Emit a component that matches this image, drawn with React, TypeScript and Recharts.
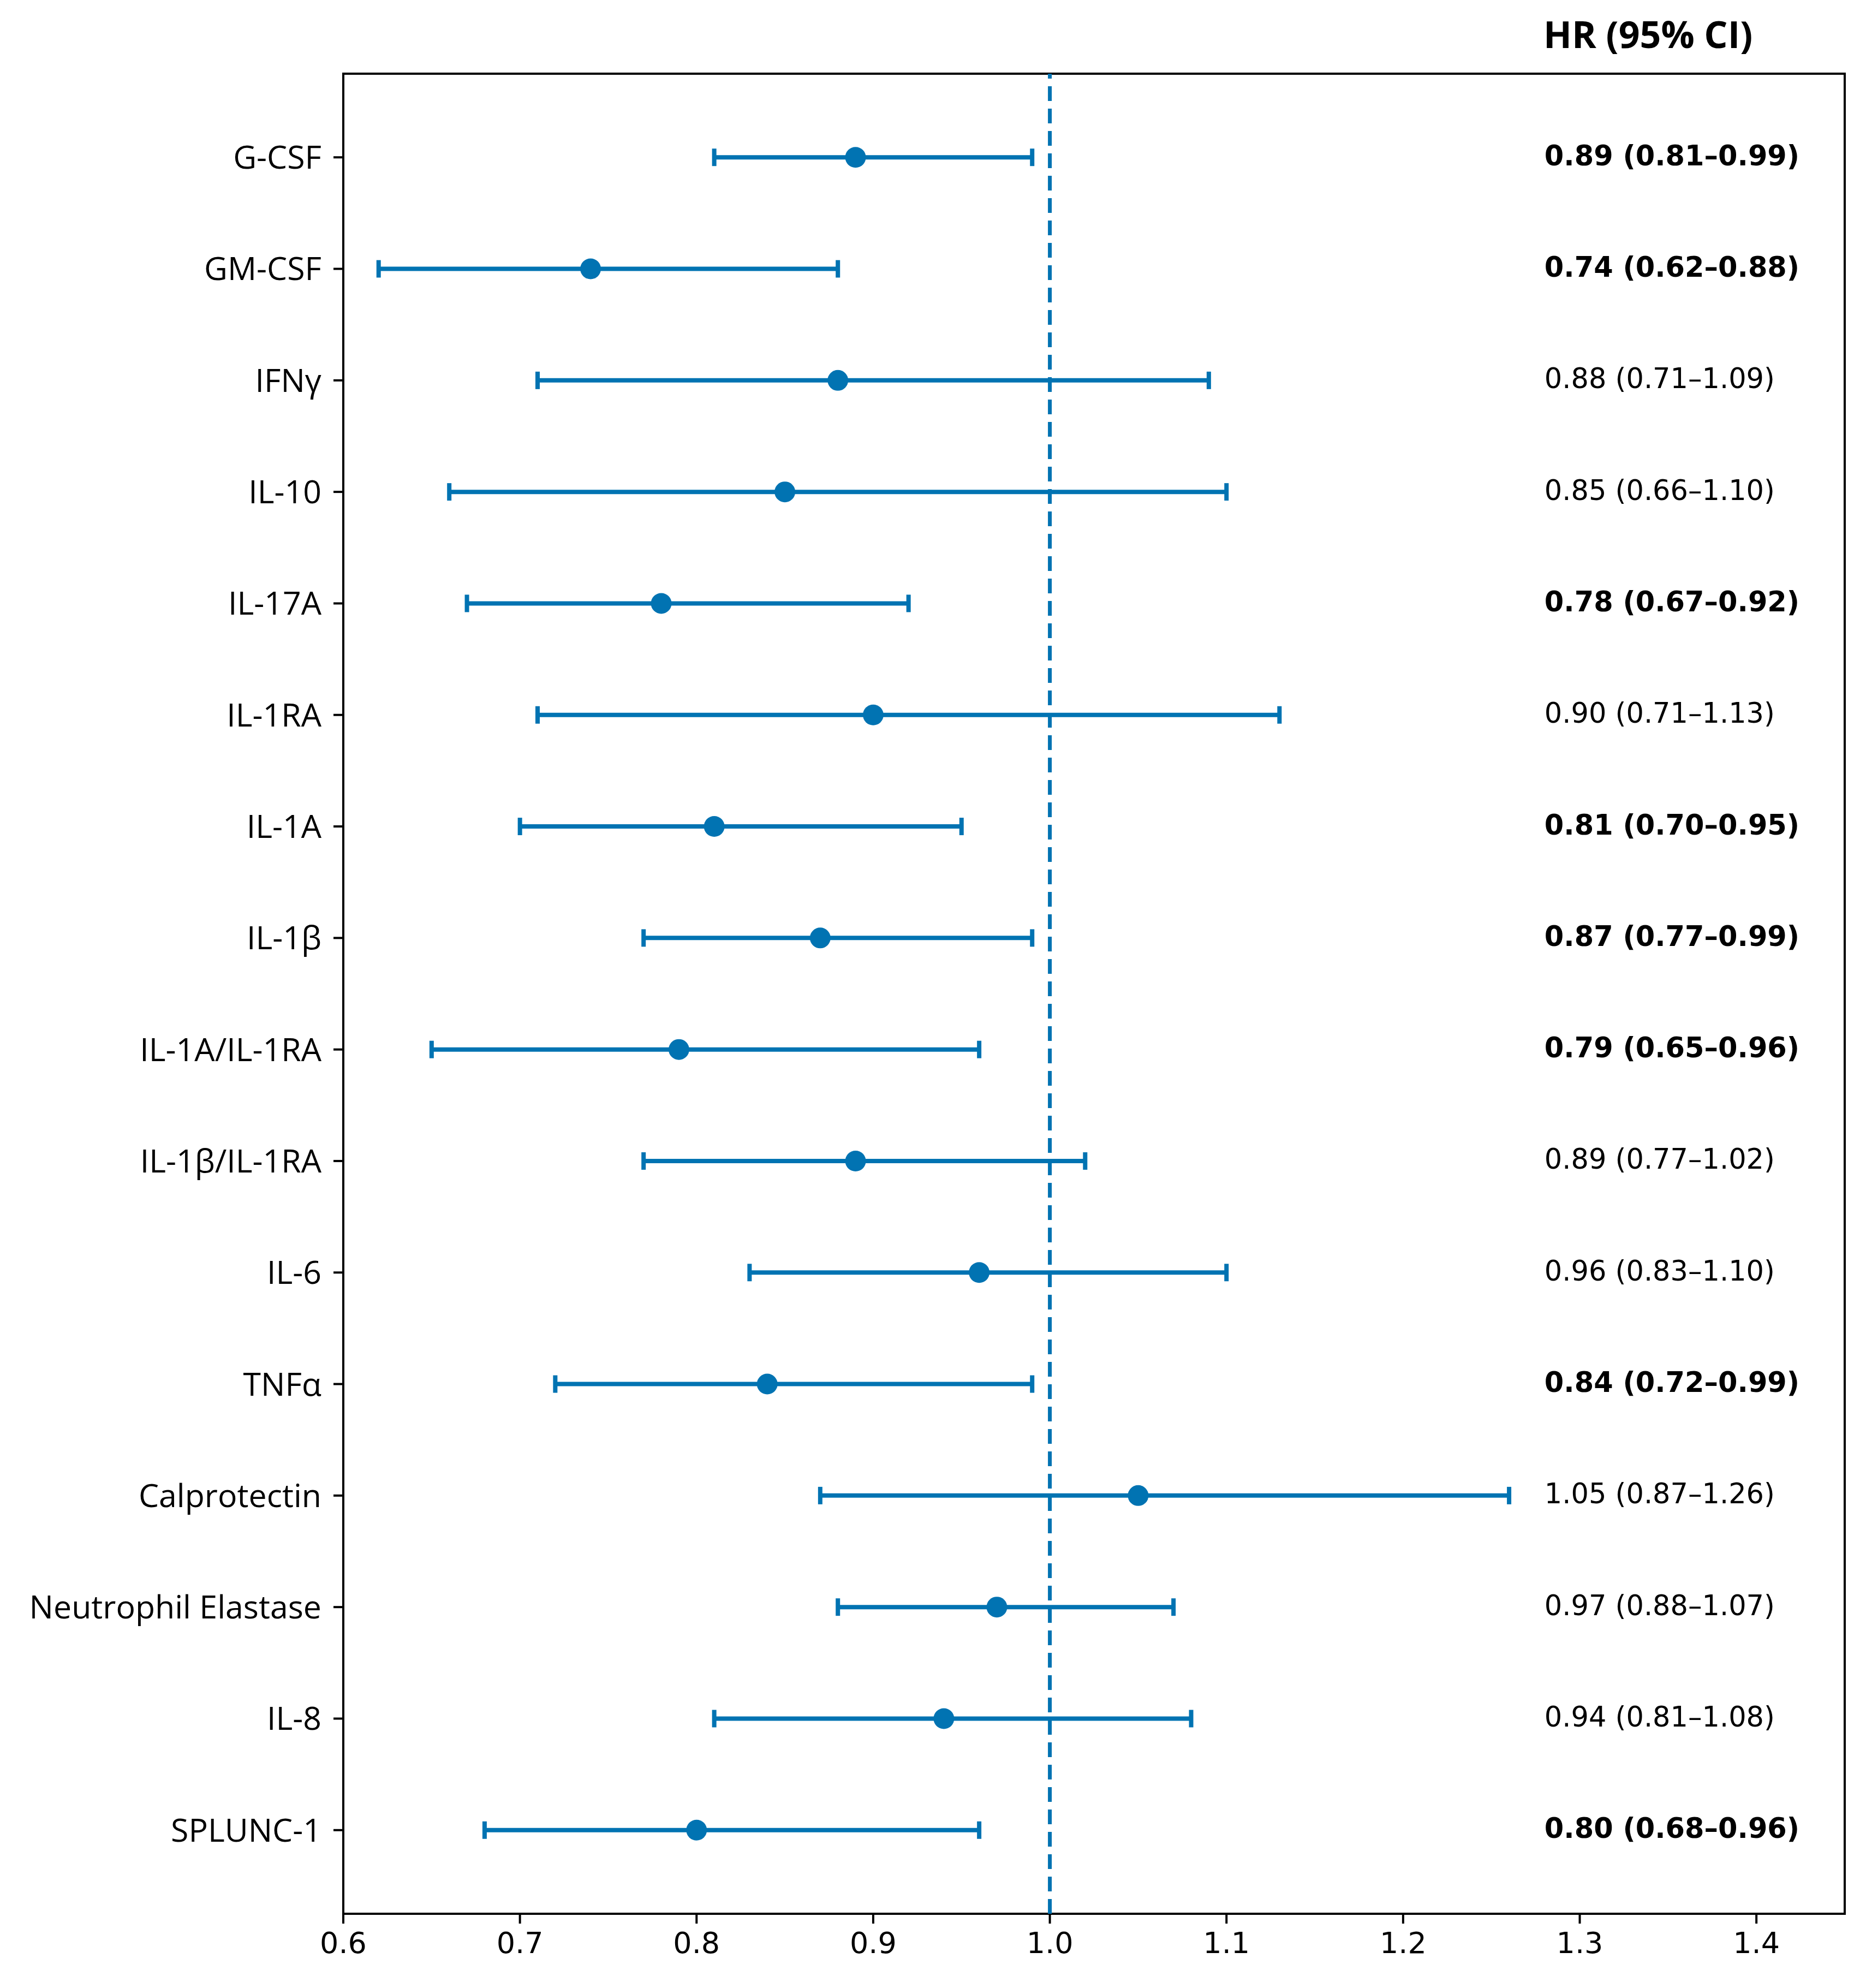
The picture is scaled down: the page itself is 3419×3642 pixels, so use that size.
import {
  ScatterChart,
  Scatter,
  XAxis,
  YAxis,
  ErrorBar,
  ReferenceLine,
  ReferenceArea,
} from "recharts"

// ─── Data ────────────────────────────────────────────────────────────────────

const MARKERS = [
  "G-CSF", "GM-CSF", "IFNγ", "IL-10", "IL-17A", "IL-1RA", "IL-1A", "IL-1β",
  "IL-1A/IL-1RA", "IL-1β/IL-1RA", "IL-6", "TNFα", "Calprotectin",
  "Neutrophil Elastase", "IL-8", "SPLUNC-1",
]
const HR = [0.89, 0.74, 0.88, 0.85, 0.78, 0.90, 0.81, 0.87, 0.79, 0.89, 0.96, 0.84, 1.05, 0.97, 0.94, 0.80]
const CI_LOW = [0.81, 0.62, 0.71, 0.66, 0.67, 0.71, 0.70, 0.77, 0.65, 0.77, 0.83, 0.72, 0.87, 0.88, 0.81, 0.68]
const CI_HIGH = [0.99, 0.88, 1.09, 1.10, 0.92, 1.13, 0.95, 0.99, 0.96, 1.02, 1.10, 0.99, 1.26, 1.07, 1.08, 0.96]
const X_TICKS = [0.6, 0.7, 0.8, 0.9, 1.0, 1.1, 1.2, 1.3, 1.4]
const LABEL_X = 1.28

const BLUE = "#0173b2"

const rows = MARKERS.map((name, i) => ({
  name,
  idx: i,
  hr: HR[i],
  err: [+(HR[i] - CI_LOW[i]).toFixed(2), +(CI_HIGH[i] - HR[i]).toFixed(2)],
}))

// text column sits at a fixed x inside the plot
const labelRows = MARKERS.map((name, i) => ({
  idx: i,
  hr: LABEL_X,
  text: `${HR[i].toFixed(2)} (${CI_LOW[i].toFixed(2)}–${CI_HIGH[i].toFixed(2)})`,
  bold: CI_HIGH[i] < 1,
}))

const Dot = (props: any) => <circle cx={props.cx} cy={props.cy} r={19} fill={BLUE} />

const ValueText = (props: any) => (
  <text
    x={props.cx}
    y={props.cy - 3}
    dominantBaseline="central"
    fontFamily="DejaVu Sans"
    fontSize={51}
    fontWeight={props.payload.bold ? "bold" : "normal"}
    fill="#000"
  >
    {props.payload.text}
  </text>
)

export default function App() {
  return (
    <div style={{ position: "absolute", left: 0, top: 0, background: "#fff" }}>
      <div
        style={{
          position: "absolute", left: 2828, top: 20, fontFamily: "Open Sans",
          fontWeight: 700, fontSize: 68, lineHeight: "84px", whiteSpace: "nowrap",
        }}
      >
        HR (95% CI)
      </div>
      <ScatterChart width={3419} height={3642} margin={{ top: 135, right: 39, bottom: 36, left: 0 }}>
        <XAxis
          type="number" dataKey="hr" domain={[0.6, 1.45]} ticks={X_TICKS} interval={0}
          tickFormatter={(v: number) => v.toFixed(1)} height={100} axisLine={false}
          tickSize={18} tickMargin={16}
          tickLine={{ stroke: "#000", strokeWidth: 4 }}
          tick={{ fontSize: 54, fill: "#000", fontFamily: "DejaVu Sans" }}
          allowDataOverflow
        />
        <YAxis
          type="number" dataKey="idx" domain={[-0.75, 15.75]} reversed
          ticks={MARKERS.map((_, i) => i)} interval={0}
          tickFormatter={(v: number) => MARKERS[v] ?? ""} width={629} axisLine={false}
          tickSize={18} tickMargin={22}
          tickLine={{ stroke: "#000", strokeWidth: 4 }}
          tick={{ fontSize: 59, fill: "#000", fontFamily: "Open Sans" }}
          allowDataOverflow
        />
        <ReferenceArea
          x1={0.6} x2={1.45} y1={-0.75} y2={15.75}
          fill="none" stroke="#000" strokeWidth={4} fillOpacity={0}
        />
        <ReferenceLine x={1} stroke={BLUE} strokeWidth={7} strokeDasharray="27 14" />
        <Scatter data={rows} dataKey="idx" shape={Dot} isAnimationActive={false}>
          <ErrorBar dataKey="err" direction="x" width={16} stroke={BLUE} strokeWidth={8} />
        </Scatter>
        <Scatter data={labelRows} dataKey="idx" shape={ValueText} isAnimationActive={false} />
      </ScatterChart>
    </div>
  )
}
